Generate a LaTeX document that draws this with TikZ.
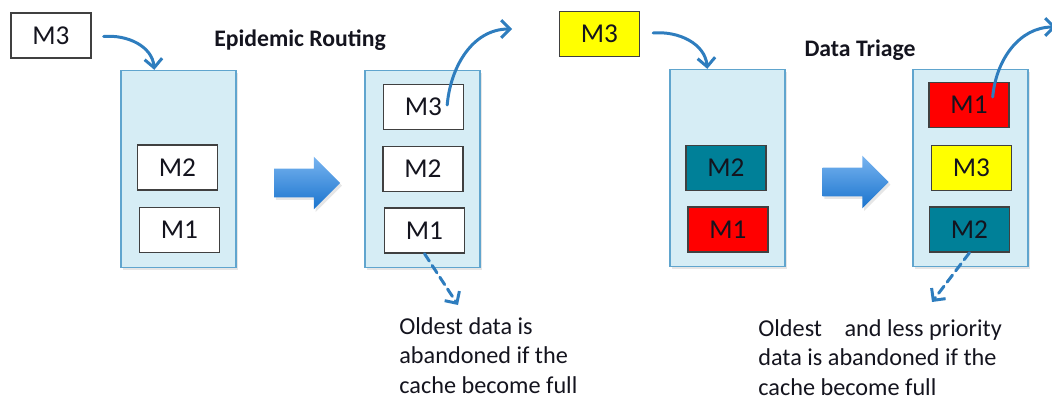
\documentclass[tikz,border=0pt]{standalone}
\usepackage{fontspec}
\setmainfont{Carlito}
\usetikzlibrary{arrows.meta, calc, positioning, shapes.arrows, shadows}
\definecolor{cachefill}{RGB}{214,237,245}
\definecolor{cacheline}{RGB}{96,165,206}
\definecolor{arrowblue}{RGB}{46,125,190}
\definecolor{steptop}{RGB}{120,180,240}
\definecolor{stepbot}{RGB}{25,115,205}
\definecolor{msgteal}{RGB}{0,128,152}
\definecolor{msgred}{RGB}{255,0,0}
\definecolor{msgyellow}{RGB}{255,255,0}
\definecolor{txt}{RGB}{20,20,30}

\tikzset{
  cache/.style={draw=cacheline, fill=cachefill, line width=0.8pt,
    minimum width=2.3cm, minimum height=3.94cm, inner sep=0pt,
    drop shadow={opacity=0.2, shadow xshift=1.2pt, shadow yshift=-1.2pt}},
  msg/.style={draw=black!75, line width=0.8pt, fill=white, text=txt,
    minimum width=1.6cm, minimum height=0.9cm, inner sep=0pt,
    font=\fontsize{15.5}{17}\selectfont},
  flow/.style={arrowblue, line width=1.7pt, -{Straight Barb[length=5pt, width=10pt, line width=1.7pt]}},
  drop/.style={flow, dash pattern=on 5pt off 3pt},
  step arrow/.style={single arrow, single arrow head extend=0.24cm,
    text height=0.28cm, text depth=0.28cm, text width=0cm,
    minimum height=1.32cm, inner sep=0pt, outer sep=0pt,
    top color=steptop, bottom color=stepbot, draw=none,
    drop shadow={opacity=0.2, shadow xshift=1pt, shadow yshift=-1.5pt}},
  title/.style={font=\fontsize{13.5}{16}\selectfont\bfseries, text=txt},
  note/.style={font=\fontsize{13.8}{16.8}\selectfont, text=txt, align=left,
    anchor=north west, inner sep=0pt}
}

\begin{document}
\begin{tikzpicture}[x=0.02cm, y=-0.02cm, line cap=round]
  \useasboundingbox (0,0) rectangle (1052,399);

  % epidemic routing
  \node[msg] (m3a) at (51,35.5) {M3};
  \node[title] (epi) at (300,40) {Epidemic Routing};
  \node[cache] (cacheA) at (178.5,169) {};
  \node[msg] (m2a) at (177.5,167.5) {M2};
  \node[msg] (m1a) at (179.5,230) {M1};
  \node[step arrow] (stepA) at (300,183) {};
  \node[cache] (cacheB) at (422.5,169) {};
  \node[msg] (m3b) at (423.5,107) {M3};
  \node[msg] (m2b) at (423,169) {M2};
  \node[msg] (m1b) at (424.5,230.5) {M1};
  \coordinate (outB) at (512,29);
  \coordinate (dropB) at (458,305);
  \node[note] (noteB) at (399,317) {Oldest data is\\abandoned if the\\cache become full};

  \draw[flow] ($(m3a.east)+(12,1)$) to[out=5, in=95] ($(cacheA.north west)+(34,0)$);
  \draw[flow] ($(m3b.east)+(-17,-2)$) to[out=85, in=180] (outB);
  \draw[drop] (m1b.south) -- (dropB);

  % data triage
  \node[msg, fill=msgyellow] (m3c) at (599.5,34) {M3};
  \node[title] (tri) at (860,50) {Data Triage};
  \node[cache] (cacheC) at (727.5,168) {};
  \node[msg, fill=msgteal] (m2c) at (726,168) {M2};
  \node[msg, fill=msgred] (m1c) at (728,229.5) {M1};
  \node[step arrow] (stepB) at (848.5,182) {};
  \node[cache] (cacheD) at (970.5,168) {};
  \node[msg, fill=msgred] (m1d) at (969,105) {M1};
  \node[msg, fill=msgyellow] (m3d) at (971.5,168) {M3};
  \node[msg, fill=msgteal] (m2d) at (969.5,229.5) {M2};
  \coordinate (outD) at (1056,27);
  \coordinate (dropD) at (932,302);
  \node[note] (noteD) at (758,319) {Oldest\hspace{0.7em} and less priority\\data is abandoned if the\\cache become full};

  \draw[flow] ($(m3c.east)+(13,-1)$) to[out=5, in=95] ($(cacheC.north west)+(38,0)$);
  \draw[flow] ($(m1d.east)+(-17,-8)$) to[out=85, in=180] (outD);
  \draw[drop] (m2d.south) -- (dropD);
\end{tikzpicture}
\end{document}
